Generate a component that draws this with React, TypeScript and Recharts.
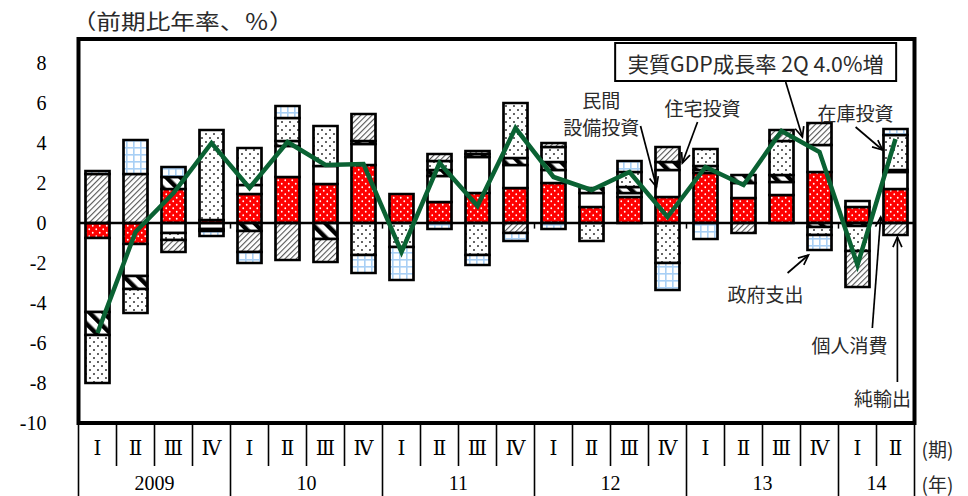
import React from 'react';
import {
  ComposedChart,
  Bar,
  Line,
  XAxis,
  YAxis,
  ReferenceLine,
  ReferenceArea,
  ReferenceDot,
} from 'recharts';

// ---------- data ----------
const quarterLabels = ['Ⅰ', 'Ⅱ', 'Ⅲ', 'Ⅳ', 'Ⅰ', 'Ⅱ', 'Ⅲ', 'Ⅳ', 'Ⅰ', 'Ⅱ', 'Ⅲ', 'Ⅳ', 'Ⅰ', 'Ⅱ', 'Ⅲ', 'Ⅳ', 'Ⅰ', 'Ⅱ', 'Ⅲ', 'Ⅳ', 'Ⅰ', 'Ⅱ'];
const yearLabels = ['2009', '10', '11', '12', '13', '14'];
const quartersPerYear = [4, 4, 4, 4, 4, 2];
const yTicks = [-10, -8, -6, -4, -2, 0, 2, 4, 6, 8];

// contributions (annualised, %pt)
const consumption = [-0.75, -1.05, 1.7, 0.15, 1.45, 2.3, 1.95, 2.9, 1.45, 1.05, 1.5, 1.75, 2.0, 0.8, 1.3, 1.3, 2.5, 1.25, 1.4, 2.55, 0.8, 1.7];
const capex = [-3.7, -1.6, -0.5, -0.3, 0.45, 1.55, 0.9, 1.05, 0, 1.3, 1.8, 1.15, 0.65, 0.7, 0.2, 1.35, 0.15, 0.75, 0.65, 1.35, 0.3, 0.85];
const housing = [-1.15, -0.65, 0.6, -0.1, -0.4, 0.25, -0.8, 0.15, 0, 0.3, 0.15, 0.35, 0.4, 0.25, 0.3, 0.4, 0.2, 0.4, 0.35, -0.2, -0.15, 0.1];
const inventory = [-2.4, -1.2, -0.35, 4.5, 1.85, 1.15, 2.0, -1.6, -1.2, 0.45, -1.6, 2.75, 0.75, -0.9, 0.75, -2.0, 0.85, 0, 1.7, -0.4, -1.25, 1.75];
const netExports = [2.45, 2.45, -0.6, 0, -1.05, -1.85, -1.15, 1.35, 0, 0.35, 0.15, -0.5, 0.2, 0, 0, 0.75, 0, -0.5, 0.55, 1.1, -1.8, -0.6];
const government = [0.15, 1.7, 0.5, -0.25, -0.55, 0.6, 0, -0.9, -1.65, -0.3, -0.5, -0.4, -0.3, 0, 0.55, -1.35, -0.8, 0, 0, -0.75, 0, 0.3];
const realGdp = [-5.5, -0.45, 1.5, 4.0, 1.75, 4.05, 2.9, 2.95, -1.45, 3.0, 0.85, 4.75, 2.3, 1.65, 2.55, 0.3, 2.8, 1.9, 4.6, 3.55, -2.1, 4.2];

// ---------- layout ----------
const W = 968;
const H = 496;
const PLOT_LEFT = 78.5;
const PLOT_RIGHT = 914.5;
const PLOT_TOP = 39;
const PLOT_BOTTOM = 423;
const Y_AXIS_W = 60;
const N = quarterLabels.length;
const BAND = (PLOT_RIGHT - PLOT_LEFT) / N;
const Y_MIN = -10;
const Y_MAX = 9.2;

const yearStarts: number[] = [];
{
  let acc = 0;
  quartersPerYear.forEach((n) => {
    yearStarts.push(acc);
    acc += n;
  });
}
const yearIndexOf = (i: number) => {
  let y = 0;
  for (let k = 0; k < yearStarts.length; k++) if (i >= yearStarts[k]) y = k;
  return y;
};

const data = quarterLabels.map((q, i) => ({
  key: `${yearLabels[yearIndexOf(i)]}-${q}-${i}`,
  idx: i,
  consumption: consumption[i],
  capex: capex[i],
  housing: housing[i],
  inventory: inventory[i],
  netExports: netExports[i],
  government: government[i],
  gdp: realGdp[i],
}));
const keys = data.map((d) => d.key);

const NUM_FONT = '"Liberation Serif", "DejaVu Serif", "Noto Sans CJK JP", serif';
const JP_FONT = '"Noto Sans CJK JP", "Noto Sans CJK SC", sans-serif';
const TEXT_COLOR = '#2a2a2a';

// ---------- annotations (data coordinates: x = quarter index, y = value) ----------
const annoLabels = [
  { x: 13.26, y: 6.2, lines: ['民間'] },
  { x: 13.26, y: 4.85, lines: ['設備投資'] },
  { x: 15.92, y: 5.8, lines: ['住宅投資'] },
  { x: 19.95, y: 5.55, lines: ['在庫投資'] },
  { x: 17.58, y: -3.5, lines: ['政府支出'] },
  { x: 19.79, y: -6.05, lines: ['個人消費'] },
  { x: 20.66, y: -8.7, lines: ['純輸出'] },
];
const annoArrows = [
  { x1: 18.11, y1: 7.05, x2: 18.55, y2: 4.3 },
  { x1: 14.29, y1: 4.85, x2: 14.71, y2: 1.8 },
  { x1: 15.79, y1: 5.05, x2: 15.39, y2: 3.0 },
  { x1: 19.95, y1: 4.8, x2: 20.66, y2: 3.65 },
  { x1: 18.16, y1: -2.5, x2: 18.71, y2: -1.6 },
  { x1: 20.39, y1: -5.25, x2: 20.61, y2: 0.3 },
  { x1: 21.05, y1: -7.95, x2: 21.05, y2: -0.7 },
];
const boxAnno = { x: 17.32, y: 8.05, text: '実質GDP成長率 2Q 4.0%増' };
const titleAnno = { x: -0.68, y: 10.15, text: '（前期比年率、％）' };

// ---------- shapes ----------
const ArrowShape = (p: any) => {
  const { x1, y1, x2, y2 } = p;
  const ang = Math.atan2(y2 - y1, x2 - x1);
  const L = 11;
  const a = 0.42;
  const ax1 = x2 - L * Math.cos(ang - a);
  const ay1 = y2 - L * Math.sin(ang - a);
  const ax2 = x2 - L * Math.cos(ang + a);
  const ay2 = y2 - L * Math.sin(ang + a);
  return (
    <g>
      <line x1={x1} y1={y1} x2={x2} y2={y2} stroke="#000" strokeWidth={1.7} />
      <polyline points={`${ax1},${ay1} ${x2},${y2} ${ax2},${ay2}`} fill="none" stroke="#000" strokeWidth={1.7} />
    </g>
  );
};

const makeLabelShape = (lines: string[]) => (p: any) => {
  const { cx, cy } = p;
  const lh = 22;
  const top = cy - ((lines.length - 1) * lh) / 2;
  return (
    <g>
      {lines.map((t, k) => (
        <text
          key={k}
          x={cx}
          y={top + k * lh}
          textAnchor="middle"
          dominantBaseline="central"
          fontFamily={JP_FONT}
          fontSize={19}
          fill={TEXT_COLOR}
        >
          {t}
        </text>
      ))}
    </g>
  );
};

const BoxShape = (p: any) => {
  const { cx, cy } = p;
  const bw = 281;
  const bh = 38;
  return (
    <g>
      <rect x={cx - bw / 2} y={cy - bh / 2} width={bw} height={bh} fill="#fff" stroke="#000" strokeWidth={2} />
      <text
        x={cx}
        y={cy + 1}
        textAnchor="middle"
        dominantBaseline="central"
        fontFamily={JP_FONT}
        fontSize={21}
        fill={TEXT_COLOR}
        textLength={256}
        lengthAdjust="spacingAndGlyphs"
      >
        {boxAnno.text}
      </text>
    </g>
  );
};

const TitleShape = (p: any) => {
  const { cx, cy } = p;
  return (
    <text
      x={cx}
      y={cy}
      textAnchor="start"
      dominantBaseline="central"
      fontFamily={JP_FONT}
      fontSize={21}
      fill={TEXT_COLOR}
      textLength={222}
      lengthAdjust="spacingAndGlyphs"
    >
      {titleAnno.text}
    </text>
  );
};

const YTick = (p: any) => {
  const { x, y, payload } = p;
  return (
    <text x={x} y={y} textAnchor="end" dominantBaseline="central" fontFamily={NUM_FONT} fontSize={20} fill="#000">
      {payload.value}
    </text>
  );
};

const XTick = (p: any) => {
  const { x, payload } = p;
  const i = keys.indexOf(payload.value);
  if (i < 0) return <g />;
  const left = x - BAND / 2;
  const right = x + BAND / 2;
  const ys = yearStarts.indexOf(i);
  const rowSplit = 466;
  const els: any[] = [];
  els.push(
    <line key="l" x1={left} x2={left} y1={PLOT_BOTTOM} y2={ys >= 0 ? H : rowSplit} stroke="#000" strokeWidth={1.6} />
  );
  els.push(
    <text key="q" x={x} y={448} textAnchor="middle" dominantBaseline="central" fontFamily={NUM_FONT} fontSize={20} fill="#000">
      {quarterLabels[i]}
    </text>
  );
  if (ys >= 0) {
    const n = quartersPerYear[ys];
    els.push(
      <text key="y" x={left + (n * BAND) / 2} y={483} textAnchor="middle" dominantBaseline="central" fontFamily={NUM_FONT} fontSize={20} fill="#000">
        {yearLabels[ys]}
      </text>
    );
  }
  if (i === N - 1) {
    els.push(<line key="r" x1={right} x2={right} y1={PLOT_BOTTOM} y2={H} stroke="#000" strokeWidth={1.6} />);
    els.push(
      <text key="p1" x={right + 7} y={448} textAnchor="start" dominantBaseline="central" fontFamily={JP_FONT} fontSize={19} fill={TEXT_COLOR}>
        (期)
      </text>
    );
    els.push(
      <text key="p2" x={right + 7} y={483} textAnchor="start" dominantBaseline="central" fontFamily={JP_FONT} fontSize={19} fill={TEXT_COLOR}>
        (年)
      </text>
    );
  }
  return <g>{els}</g>;
};

// year boundary tick marks on the zero line
const boundaryTicks = yearStarts.slice(1).map((s) => s - 0.5);

export default function App() {
  return (
    <div style={{ position: 'absolute', left: 0, top: 0, width: W, height: H, background: '#fff' }}>
      <ComposedChart
        width={W}
        height={H}
        data={data}
        stackOffset="sign"
        margin={{ top: PLOT_TOP, right: W - PLOT_RIGHT, bottom: 0, left: PLOT_LEFT - Y_AXIS_W }}
        barSize={24}
      >
        <defs>
          <pattern id="pCons" width="7" height="7" patternUnits="userSpaceOnUse">
            <rect width="7" height="7" fill="#ff0000" />
            <circle cx="1.75" cy="1.75" r="0.9" fill="#ffffff" />
            <circle cx="5.25" cy="5.25" r="0.9" fill="#ffffff" />
          </pattern>
          <pattern id="pInv" width="8" height="8" patternUnits="userSpaceOnUse">
            <rect width="8" height="8" fill="#ffffff" />
            <circle cx="2" cy="2" r="0.95" fill="#222" />
            <circle cx="6" cy="6" r="0.95" fill="#222" />
          </pattern>
          <pattern id="pNet" width="4" height="4" patternUnits="userSpaceOnUse" patternTransform="rotate(45)">
            <rect width="4" height="4" fill="#ffffff" />
            <rect width="1.1" height="4" fill="#555" />
          </pattern>
          <pattern id="pHouse" width="10" height="10" patternUnits="userSpaceOnUse" patternTransform="rotate(-45)">
            <rect width="10" height="10" fill="#ffffff" />
            <rect width="4.5" height="10" fill="#000" />
          </pattern>
          <pattern id="pGov" width="7" height="7" patternUnits="userSpaceOnUse">
            <rect width="7" height="7" fill="#ffffff" />
            <rect width="7" height="1.6" fill="#a8cff5" />
            <rect width="1.6" height="7" fill="#a8cff5" />
          </pattern>
        </defs>

        <XAxis
          dataKey="key"
          type="category"
          height={H - PLOT_BOTTOM}
          axisLine={false}
          tickLine={false}
          tickSize={0}
          tickMargin={0}
          interval={0}
          tick={<XTick />}
        />
        <XAxis xAxisId="num" dataKey="idx" type="number" domain={[-0.5, N - 0.5]} hide allowDataOverflow />
        <YAxis
          type="number"
          domain={[Y_MIN, Y_MAX]}
          ticks={yTicks}
          interval={0}
          width={Y_AXIS_W}
          axisLine={false}
          tickLine={false}
          tickSize={0}
          tickMargin={32}
          allowDataOverflow
          tick={<YTick />}
        />

        <Bar dataKey="consumption" stackId="s" fill="url(#pCons)" stroke="#000" strokeWidth={2.7} isAnimationActive={false} />
        <Bar dataKey="capex" stackId="s" fill="#ffffff" stroke="#000" strokeWidth={2.7} isAnimationActive={false} />
        <Bar dataKey="housing" stackId="s" fill="url(#pHouse)" stroke="#000" strokeWidth={2.7} isAnimationActive={false} />
        <Bar dataKey="inventory" stackId="s" fill="url(#pInv)" stroke="#000" strokeWidth={2.7} isAnimationActive={false} />
        <Bar dataKey="netExports" stackId="s" fill="url(#pNet)" stroke="#000" strokeWidth={2.7} isAnimationActive={false} />
        <Bar dataKey="government" stackId="s" fill="url(#pGov)" stroke="#000" strokeWidth={2.7} isAnimationActive={false} />

        <ReferenceLine y={0} stroke="#000" strokeWidth={2.7} />
        {boundaryTicks.map((b) => (
          <ReferenceLine
            key={`bt${b}`}
            xAxisId="num"
            segment={[
              { x: b, y: 0 },
              { x: b, y: -0.28 },
            ]}
            stroke="#000"
            strokeWidth={1.5}
          />
        ))}

        <Line
          type="linear"
          dataKey="gdp"
          stroke="#0a6233"
          strokeWidth={4.5}
          dot={false}
          activeDot={false}
          isAnimationActive={false}
        />

        <ReferenceArea
          xAxisId="num"
          x1={-0.5}
          x2={N - 0.5}
          y1={Y_MIN}
          y2={Y_MAX}
          fill="none"
          stroke="#000"
          strokeWidth={4}
          ifOverflow="visible"
        />

        {annoArrows.map((a, k) => (
          <ReferenceLine
            key={`ar${k}`}
            xAxisId="num"
            segment={[
              { x: a.x1, y: a.y1 },
              { x: a.x2, y: a.y2 },
            ]}
            shape={ArrowShape}
            ifOverflow="visible"
          />
        ))}
        {annoLabels.map((l, k) => (
          <ReferenceDot key={`lb${k}`} xAxisId="num" x={l.x} y={l.y} r={0} ifOverflow="visible" shape={makeLabelShape(l.lines)} />
        ))}
        <ReferenceDot xAxisId="num" x={boxAnno.x} y={boxAnno.y} r={0} ifOverflow="visible" shape={BoxShape} />
        <ReferenceDot xAxisId="num" x={titleAnno.x} y={titleAnno.y} r={0} ifOverflow="visible" shape={TitleShape} />
      </ComposedChart>
    </div>
  );
}
